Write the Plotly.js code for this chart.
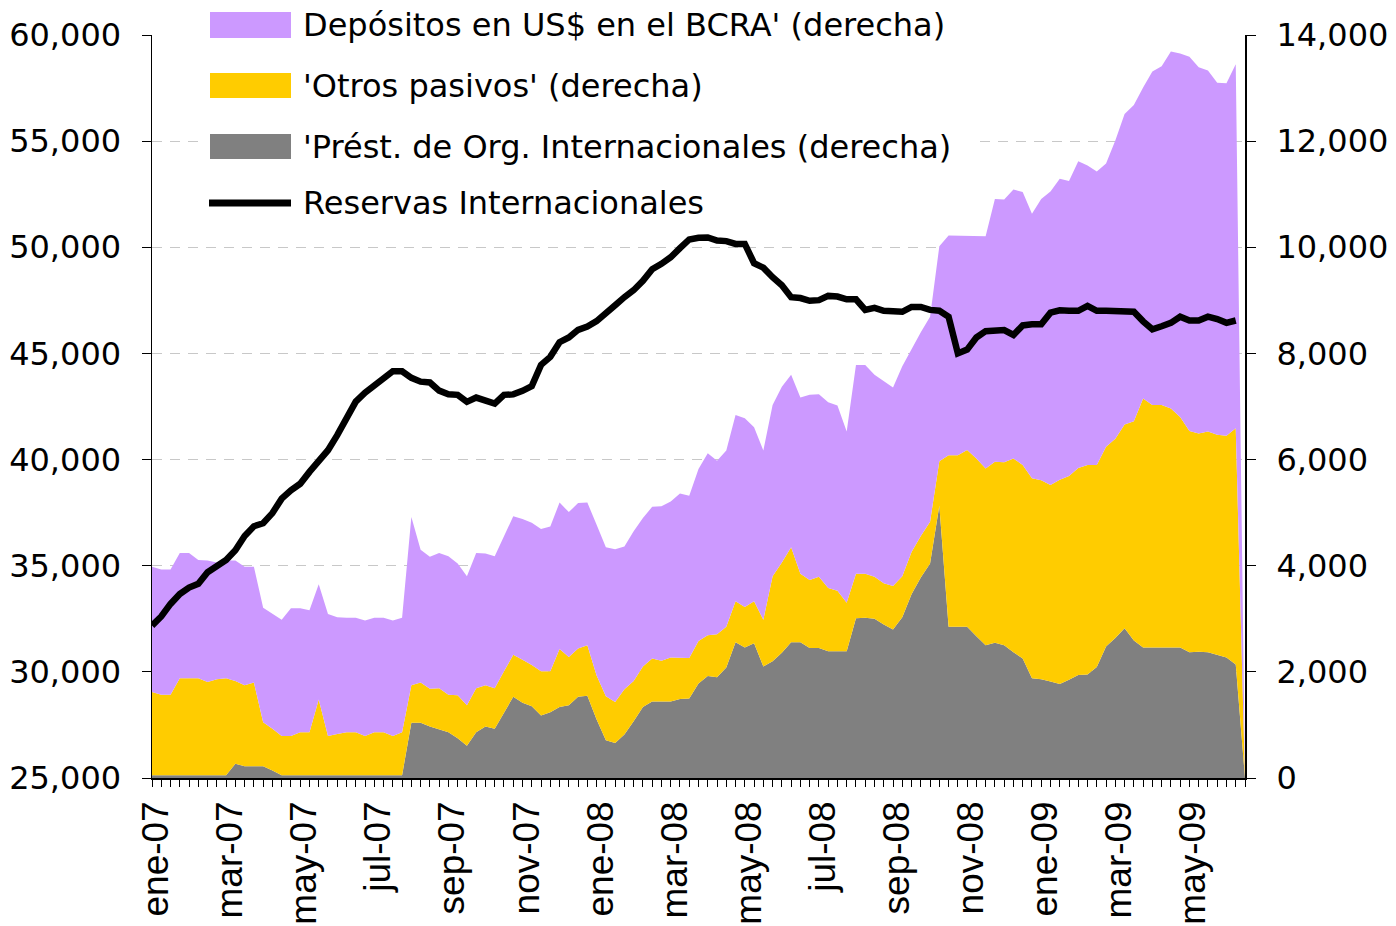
<!DOCTYPE html>
<html>
<head>
<meta charset="utf-8">
<script src="https://cdn.plot.ly/plotly-3.0.1.min.js"></script>
<style>
  html, body { margin: 0; padding: 0; background: #ffffff; }
  #chart { width: 1396px; height: 926px; }
</style>
</head>
<body>
<div id="chart"></div>
<script>
// ---- Data (weekly observations, right axis stacked areas + left axis line) ----
const tickLabels = ['ene-07','mar-07','may-07','jul-07','sep-07','nov-07','ene-08','mar-08','may-08','jul-08','sep-08','nov-08','ene-09','mar-09','may-09'];
const weeksPerLabel = 8;

const prestamos = [
  50,50,50,50,50,50,50,50,50,270,
  220,220,220,140,50,50,50,50,50,50,
  50,50,50,50,50,50,50,50,1040,1040,
  970,910,860,750,610,860,970,930,1220,1530,
  1420,1350,1180,1240,1340,1370,1530,1550,1100,710,
  660,820,1070,1340,1440,1440,1440,1490,1500,1780,
  1920,1900,2080,2560,2460,2540,2100,2200,2360,2560,
  2560,2450,2450,2390,2390,2390,3010,3020,3000,2890,
  2800,3030,3460,3780,4040,5130,2850,2850,2850,2670,
  2500,2550,2500,2370,2250,1880,1860,1820,1770,1850,
  1940,1950,2090,2480,2640,2820,2590,2460,2460,2460,
  2460,2460,2370,2380,2370,2320,2270,2140,0
];

const otrosPasivos = [
  1570,1520,1520,1830,1830,1830,1760,1810,1830,1560,
  1530,1580,830,790,740,740,810,810,1430,740,
  780,810,810,740,810,810,740,810,710,760,
  710,780,710,810,760,830,780,760,790,790,
  810,780,830,770,1090,910,910,950,830,830,
  770,850,760,760,810,770,830,770,760,800,
  770,810,770,770,760,790,880,1600,1700,1790,
  1290,1280,1340,1190,1140,910,840,830,790,780,
  820,770,800,780,790,840,3230,3230,3330,3350,
  3330,3410,3450,3650,3650,3770,3750,3700,3850,3840,
  3900,3950,3810,3760,3750,3840,4130,4690,4570,4570,
  4500,4340,4170,4110,4160,4150,4180,4450,0
];

const depositos = [
  2360,2360,2360,2360,2360,2230,2290,2200,2220,2270,
  2230,2180,2160,2160,2190,2410,2340,2300,2170,2300,
  2200,2160,2160,2180,2160,2160,2180,2160,3170,2500,
  2490,2550,2610,2480,2430,2550,2480,2490,2530,2610,
  2650,2680,2680,2730,2760,2730,2740,2690,2840,2810,
  2880,2690,2820,2800,2860,2910,2940,3100,3060,3240,
  3430,3270,3320,3510,3560,3280,3190,3230,3310,3250,
  3320,3490,3440,3500,3490,3230,3930,3930,3810,3810,
  3740,3960,3820,3840,3860,4050,4140,4140,4040,4200,
  4380,4950,4950,5070,5140,4980,5300,5530,5670,5560,
  5780,5640,5530,5340,5620,5850,5960,5860,6280,6380,
  6730,6850,7050,6900,6800,6630,6640,6860,0
];

const reservas = [
  32180,32610,33200,33670,33970,34150,34690,34960,35270,35730,
  36400,36860,37000,37480,38160,38550,38860,39420,39960,40440,
  41150,41870,42730,43150,43480,43750,44160,44160,43850,43670,
  43630,43250,43080,43050,42720,42920,42800,42640,43050,43070,
  43240,43460,44460,44840,45530,45750,46110,46270,46520,46850,
  47270,47650,47980,48420,48970,49220,49530,49960,50370,50450,
  50460,50320,50290,50160,50160,49250,49040,48590,48210,47650,
  47610,47480,47510,47710,47680,47550,47550,47050,47150,47010,
  46960,46960,47190,47190,47050,47010,46730,45000,45180,45750,
  46050,46100,46100,45870,46320,46370,46370,46920,47030,47010,
  47010,47240,47010,47010,47010,47010,46960,46510,46140,46280,
  46440,46730,46550,46550,46730,46620,46440,46550,null
];

const seriesNames = {
  depositos: "Depósitos en US$ en el BCRA' (derecha)",
  otros: "'Otros pasivos' (derecha)",
  prestamos: "'Prést. de Org. Internacionales (derecha)",
  reservas: "Reservas Internacionales"
};

const colors = { depositos: '#CC99FF', otros: '#FFCC00', prestamos: '#808080', reservas: '#000000' };

// ---- Build ----
const x = prestamos.map((_, i) => i);
const tickVals = tickLabels.map((_, k) => k * weeksPerLabel);

const W = 1396, H = 926;
const M = { l: 152, r: 151, t: 35, b: 148 };
const PW = W - M.l - M.r, PH = H - M.t - M.b;
const px = v => (v - M.l) / PW;        // pixel x -> paper
const py = v => (H - M.b - v) / PH;    // pixel y -> paper

const FONT = 'DejaVu Sans, Verdana, sans-serif';

// areas on the base axis (right side), line on the overlaying axis (left side) so it is drawn on top
function area(name, vals, color) {
  return {
    type: 'scatter', x: x, y: vals, name: name, yaxis: 'y',
    stackgroup: 'der', mode: 'lines', line: { width: 0, color: color },
    fillcolor: color, hoverinfo: 'skip', showlegend: false
  };
}

const traces = [
  area(seriesNames.prestamos, prestamos, colors.prestamos),
  area(seriesNames.otros, otrosPasivos, colors.otros),
  area(seriesNames.depositos, depositos, colors.depositos),
  {
    type: 'scatter', x: x, y: reservas, name: seriesNames.reservas, yaxis: 'y2',
    mode: 'lines', line: { color: colors.reservas, width: 6.5 }, showlegend: false,
    connectgaps: false
  }
];

// custom legend (white box + swatches + text)
const legendRows = [
  { key: 'depositos', kind: 'box', y0: 12, y1: 38, ty: 25 },
  { key: 'otros', kind: 'box', y0: 73, y1: 98, ty: 86 },
  { key: 'prestamos', kind: 'box', y0: 134, y1: 159, ty: 147 },
  { key: 'reservas', kind: 'line', y0: 203, y1: 203, ty: 203 }
];
const shapes = [
  { type: 'rect', xref: 'paper', yref: 'paper', x0: px(200), x1: px(975), y0: py(228), y1: py(0),
    fillcolor: '#ffffff', line: { width: 0 }, layer: 'above' }
];
const annotations = [];
legendRows.forEach(r => {
  if (r.kind === 'box') {
    shapes.push({ type: 'rect', xref: 'paper', yref: 'paper', x0: px(210), x1: px(291), y0: py(r.y1), y1: py(r.y0),
      fillcolor: colors[r.key], line: { width: 0 }, layer: 'above' });
  } else {
    shapes.push({ type: 'line', xref: 'paper', yref: 'paper', x0: px(209), x1: px(291), y0: py(r.y0), y1: py(r.y0),
      line: { color: colors[r.key], width: 7 }, layer: 'above' });
  }
  annotations.push({ xref: 'paper', yref: 'paper', x: px(301), y: py(r.ty), xanchor: 'left', yanchor: 'middle',
    text: seriesNames[r.key], showarrow: false, font: { family: FONT, size: 32, color: '#000' } });
});

const layout = {
  width: W, height: H,
  margin: M,
  paper_bgcolor: '#ffffff', plot_bgcolor: '#ffffff',
  showlegend: false,
  xaxis: {
    type: 'linear', range: [0, x.length - 1], fixedrange: true,
    tickmode: 'array', tickvals: tickVals, ticktext: tickLabels, tickangle: -90,
    ticks: 'outside', ticklen: 7, tickwidth: 1, tickcolor: '#000',
    minor: { tickmode: 'linear', tick0: 0, dtick: 1, ticks: 'outside', ticklen: 7, tickwidth: 1, tickcolor: '#000', showgrid: false },
    showgrid: false, zeroline: false, ticklabelshift: 4,
    showline: true, linecolor: '#000', linewidth: 1.5,
    tickfont: { family: 'Liberation Sans, Arial, sans-serif', size: 37, color: '#000' },
    automargin: false
  },
  yaxis: {
    side: 'right',
    range: [0, 14000], dtick: 2000, tick0: 0, tickformat: ',d',
    ticks: 'outside', ticklen: 9, tickcolor: '#000', tickwidth: 1,
    showline: true, linecolor: '#000', linewidth: 2,
    showgrid: true, gridcolor: '#c8c8c8', gridwidth: 1, griddash: '10px,8px',
    zeroline: false, ticklabelstandoff: 14,
    tickfont: { family: FONT, size: 32, color: '#000' },
    automargin: false, fixedrange: true
  },
  yaxis2: {
    overlaying: 'y', side: 'left',
    range: [25000, 60000], dtick: 5000, tick0: 25000, tickformat: ',d',
    ticks: 'outside', ticklen: 9, tickcolor: '#000', tickwidth: 1,
    showline: true, linecolor: '#000', linewidth: 1.5,
    showgrid: false, zeroline: false, ticklabelstandoff: 14,
    tickfont: { family: FONT, size: 32, color: '#000' },
    automargin: false, fixedrange: true
  },
  shapes: shapes,
  annotations: annotations
};

Plotly.newPlot('chart', traces, layout, { staticPlot: true, displayModeBar: false });
</script>
</body>
</html>
